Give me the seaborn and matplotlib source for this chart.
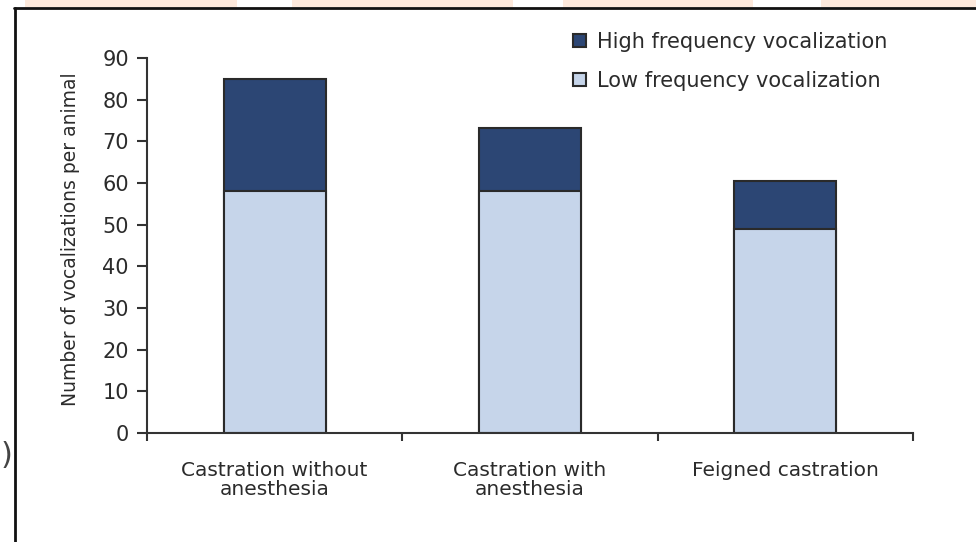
import matplotlib
matplotlib.use("Agg")
import matplotlib.pyplot as plt
from matplotlib.patches import Rectangle
from matplotlib.lines import Line2D
import seaborn as sns
import pandas as pd

# Data
categories = ["Castration without\nanesthesia", "Castration with\nanesthesia", "Feigned castration"]
low_freq = [58, 58, 49]
high_freq = [27, 15.3, 11.5]
y_ticks = [0, 10, 20, 30, 40, 50, 60, 70, 80, 90]

totals = [l + h for l, h in zip(low_freq, high_freq)]
df = pd.DataFrame({"group": categories, "low": low_freq, "total": totals})

sns.set_theme(style="white")
plt.rcParams["font.family"] = ["DejaVu Sans"]

DARK = "#2c4674"
LIGHT = "#c6d5ea"
EDGE = "#2a2a2a"
TEXT = "#2b2b2b"

fig = plt.figure(figsize=(9.76, 5.42), dpi=100)
fig.patch.set_facecolor("white")
ax = fig.add_axes([147 / 976, 1 - 433 / 542, (913 - 147) / 976, (433 - 58) / 542])

sns.barplot(data=df, x="group", y="total", color=DARK, width=0.4,
            edgecolor=EDGE, linewidth=1.5, saturation=1, ax=ax,
            label="High frequency vocalization")
sns.barplot(data=df, x="group", y="low", color=LIGHT, width=0.4,
            edgecolor=EDGE, linewidth=1.5, saturation=1, ax=ax,
            label="Low frequency vocalization")

ax.set_xlim(-0.5, len(categories) - 0.5)
ax.set_ylim(0, 90)
ax.set_yticks(y_ticks)
ax.set_yticklabels([str(t) for t in y_ticks], fontsize=15, color=TEXT)

# category boundaries carry the tick marks, labels sit at the centres
ax.set_xticks([i - 0.5 for i in range(len(categories) + 1)])
ax.set_xticklabels([""] * (len(categories) + 1))
ax.set_xticks(range(len(categories)), minor=True)
ax.set_xticklabels(categories, minor=True, fontsize=14.5, color=TEXT, linespacing=1.0)
ax.tick_params(axis="x", which="minor", length=0, pad=20)
ax.tick_params(axis="x", which="major", direction="out", length=6, width=1.5, color="#333333", bottom=True)
ax.tick_params(axis="y", direction="out", length=7, width=1.5, color="#333333", left=True, pad=6)

ax.set_xlabel("")
ax.set_ylabel("Number of vocalizations per animal", fontsize=13.5, color=TEXT)
ax.yaxis.set_label_coords(-67 / 766, 0.5 + 6 / 375)

for side in ["top", "right"]:
    ax.spines[side].set_visible(False)
for side in ["left", "bottom"]:
    ax.spines[side].set_color("#333333")
    ax.spines[side].set_linewidth(1.5)

handles, labels = ax.get_legend_handles_labels()
ax.legend(handles, labels, loc="upper left",
          bbox_to_anchor=(573 / 976, 1 - 32 / 542), bbox_transform=fig.transFigure,
          fontsize=15, frameon=False, handlelength=0.6, handleheight=0.6,
          handletextpad=0.55, labelspacing=0.9, borderpad=0, borderaxespad=0,
          labelcolor=TEXT)

# page frame and header band
for x0, x1 in [(25, 237), (292, 513), (563, 753), (821, 976)]:
    fig.patches.append(Rectangle((x0 / 976, 1 - 7 / 542), (x1 - x0) / 976, 7 / 542,
                                 transform=fig.transFigure, facecolor="#fde9dc",
                                 edgecolor="none", zorder=0))
fig.lines.append(Line2D([14 / 976, 1], [1 - 8 / 542, 1 - 8 / 542], transform=fig.transFigure,
                        color="#111111", linewidth=2))
fig.lines.append(Line2D([15 / 976, 15 / 976], [0, 1 - 8 / 542], transform=fig.transFigure,
                        color="#111111", linewidth=2))
fig.text(1 / 976, 1 - 456 / 542, ")", fontsize=22, color="#444444", ha="left", va="center")

fig.savefig("out.png", dpi=100, facecolor="white")
